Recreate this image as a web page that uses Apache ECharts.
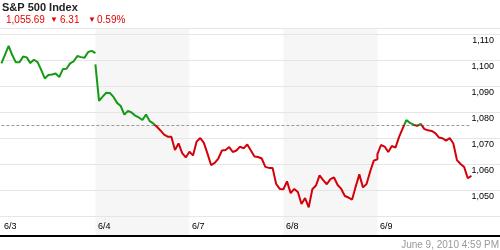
<!DOCTYPE html>
<html><head><meta charset="utf-8">
<script src="https://cdn.jsdelivr.net/npm/echarts@6/dist/echarts.min.js"></script>
<style>html,body{margin:0;padding:0;background:#fff}#c{width:500px;height:250px}</style>
</head><body><div id="c"></div>
<script>
const titleText = 'S&P 500 Index';
const lastPrice = '1,055.69';
const changeText = '6.31';
const changePct = '0.59%';
const timestamp = 'June 9, 2010 4:59 PM';
const dayLabels = ['6/3', '6/4', '6/7', '6/8', '6/9'];
const shadedDays = [1, 3];
const gridTicks = [1040, 1050, 1060, 1070, 1080, 1090, 1100, 1110];
const labelTicks = [1050, 1060, 1070, 1080, 1090, 1100, 1110];
const refLevel = 1075.1;
const yMin = 1032.5, yMax = 1112.5;
// 15-minute samples, 9:30 .. 16:00
const day0 = [1098.9, 1102.3, 1105.6, 1102.1, 1099.3, 1099.3, 1101.5, 1101.2, 1099.0, 1100.3, 1099.4, 1096.4, 1093.1, 1094.4, 1094.6, 1095.0, 1093.6, 1096.7, 1096.8, 1098.9, 1099.7, 1101.7, 1101.3, 1101.1, 1103.3, 1103.7, 1102.83];
const day1 = [1098.5, 1084.5, 1086.1, 1087.6, 1087.5, 1086.0, 1083.7, 1082.5, 1079.2, 1080.6, 1080.0, 1078.8, 1078.1, 1077.1, 1079.2, 1076.7, 1075.8, 1074.5, 1073.1, 1071.5, 1070.7, 1070.7, 1065.6, 1068.1, 1064.4, 1062.7, 1064.88];
const day2 = [1065.2, 1063.5, 1068.8, 1070.2, 1068.3, 1064.2, 1059.8, 1060.6, 1062.3, 1065.4, 1065.6, 1066.7, 1064.8, 1065.4, 1066.9, 1066.2, 1067.7, 1065.4, 1063.1, 1062.9, 1062.3, 1059.1, 1058.7, 1058.7, 1052.5, 1050.6, 1050.47];
const day3 = [1050.5, 1053.5, 1049.0, 1050.6, 1049.4, 1044.8, 1047.1, 1043.5, 1050.5, 1051.9, 1055.8, 1054.0, 1052.4, 1054.4, 1055.0, 1052.1, 1050.6, 1047.9, 1047.3, 1046.5, 1051.5, 1056.2, 1051.2, 1052.5, 1057.3, 1061.5, 1062.0];
const day4 = [1064.0, 1067.5, 1066.9, 1064.8, 1067.1, 1066.5, 1070.6, 1073.9, 1077.1, 1076.0, 1075.3, 1074.9, 1075.6, 1073.6, 1073.2, 1072.9, 1072.1, 1070.4, 1070.1, 1069.2, 1070.2, 1068.1, 1061.7, 1060.2, 1059.0, 1054.7, 1055.69];
const days = [day0, day1, day2, day3, day4];

const OFF = 0.015;
const toPoints = (arr, d) => arr.map((v, i) => [d + OFF + i / (arr.length - 1), v]);
// first session drawn separately (line is broken between 6/3 and 6/4)
const firstSession = toPoints(day0, 0);
const laterSessions = [];
days.slice(1).forEach((arr, k) => toPoints(arr, k + 1).forEach(p => laterSessions.push(p)));

const fmt = v => v.toLocaleString('en-US');
const FONT = 'Arial, "Liberation Sans", sans-serif';
const GREEN = '#159a15', RED = '#d4000a';

const priceLine = data => ({
  type: 'line', data: data, z: 5, showSymbol: false, silent: true,
  lineStyle: {width: 2}
});

const chart = echarts.init(document.getElementById('c'), null, {renderer: 'canvas'});
chart.setOption({
  animation: false,
  grid: {left: 0, right: 0, top: 28, bottom: 14},
  xAxis: {
    type: 'value', min: 0, max: 500 / 94, interval: 1, z: 10,
    axisLine: {show: true, onZero: false, lineStyle: {color: '#000', width: 2}},
    axisTick: {show: false},
    splitLine: {show: false},
    axisLabel: {
      inside: true, margin: 5, align: 'left', padding: [0, 0, 0, 4],
      fontSize: 9, fontFamily: FONT, color: '#000',
      showMaxLabel: false,
      formatter: v => dayLabels[Math.round(v)] || ''
    }
  },
  yAxis: {type: 'value', min: yMin, max: yMax, show: false, splitLine: {show: false}},
  visualMap: {
    show: false, type: 'piecewise', seriesIndex: [2, 3], dimension: 1,
    pieces: [
      {min: yMin - 100, max: refLevel, color: RED},
      {gt: refLevel, lte: yMax + 100, color: GREEN}
    ]
  },
  series: [
    {
      type: 'line', data: [], z: 1, silent: true,
      markArea: {
        silent: true, z: 1, itemStyle: {color: '#f6f6f6'},
        data: shadedDays.map(d => [{xAxis: d + OFF}, {xAxis: d + 1 + OFF}])
      }
    },
    {
      type: 'line', data: [], z: 2, silent: true,
      markLine: {
        silent: true, z: 2, symbol: 'none', animation: false,
        lineStyle: {type: 'solid', color: '#e6e6e6', width: 1},
        label: {
          position: 'insideEndBottom', distance: [6, 2], fontSize: 9, fontFamily: FONT, color: '#000'
        },
        data: gridTicks.map(v => ({
          yAxis: v,
          label: {show: labelTicks.includes(v), formatter: fmt(v)}
        })).concat([{yAxis: yMax, label: {show: false}}])
      }
    },
    priceLine(firstSession),
    priceLine(laterSessions),
    {
      type: 'line', data: [], z: 3, silent: true,
      markLine: {
        silent: true, z: 3, symbol: 'none', animation: false,
        lineStyle: {type: [3, 2], color: '#999', width: 1},
        label: {show: false},
        data: [[{xAxis: OFF, yAxis: refLevel}, {xAxis: days.length + OFF, yAxis: refLevel}]]
      }
    }
  ],
  graphic: [
    {type: 'text', left: 2, top: 2, style: {text: titleText, font: 'bold 11px ' + FONT, fill: '#222'}},
    {type: 'text', left: 6, top: 15, style: {text: lastPrice, font: '10px ' + FONT, fill: '#e60000'}},
    {type: 'text', left: 50, top: 16, style: {text: '▼', font: '8px ' + FONT, fill: '#e60000'}},
    {type: 'text', left: 60, top: 15, style: {text: changeText, font: '10px ' + FONT, fill: '#e60000'}},
    {type: 'text', left: 88, top: 16, style: {text: '▼', font: '8px ' + FONT, fill: '#e60000'}},
    {type: 'text', left: 97, top: 15, style: {text: changePct, font: '10px ' + FONT, fill: '#e60000'}},
    {type: 'text', right: 1, top: 240, style: {text: timestamp, font: '10px ' + FONT, fill: '#999'}}
  ]
});
</script>
</body></html>
